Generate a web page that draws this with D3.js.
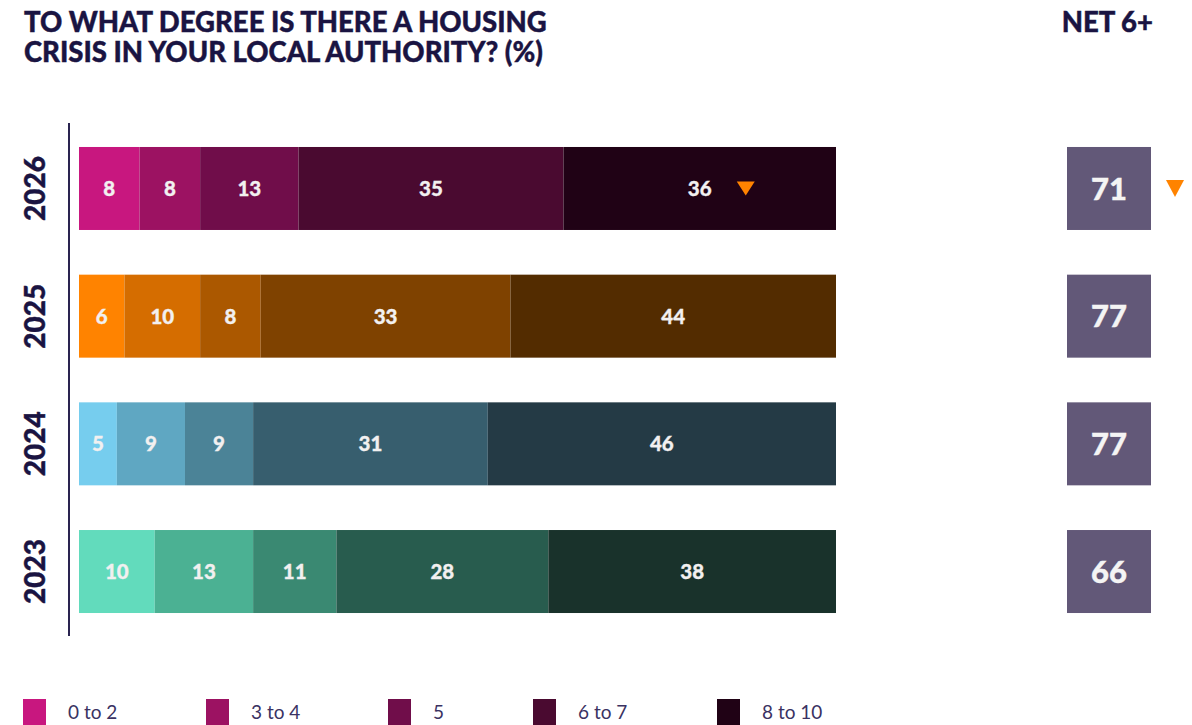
<!DOCTYPE html>
<html>
<head>
<meta charset="utf-8">
<script src="https://cdn.jsdelivr.net/npm/d3@7"></script>
<style>
  body { margin: 0; background: #fff; }
  svg { display: block; }
</style>
</head>
<body>
<div id="container"></div>
<script>
// data
const years = ['2026', '2025', '2024', '2023'];
const bands = ['0 to 2', '3 to 4', '5', '6 to 7', '8 to 10'];
const shares2026 = [8, 8, 13, 35, 36];
const shares2025 = [6, 10, 8, 33, 44];
const shares2024 = [5, 9, 9, 31, 46];
const shares2023 = [10, 13, 11, 28, 38];
const net6 = [71, 77, 77, 66];
const fellSince = ['2026']; // years with a down marker

const palettes = {
  '2026': ['#c8177f', '#9c1262', '#700d4a', '#4a0a30', '#200215'],
  '2025': ['#ff8300', '#d56d00', '#ab5800', '#7f4200', '#532c00'],
  '2024': ['#76cdee', '#5fa7c2', '#4b8397', '#375e6e', '#243a45'],
  '2023': ['#62dbbc', '#4bb193', '#3a8972', '#285c4e', '#19322b']
};

const width = 1192;
const height = 725;
const navy = '#1a1442';

const rows = [shares2026, shares2025, shares2024, shares2023].map((vals, i) => {
  const r = {year: years[i]};
  bands.forEach((b, j) => r[b] = vals[j]);
  return r;
});

const series = d3.stack().keys(bands)(rows);

const svg = d3.select('#container').append('svg')
  .attr('width', width)
  .attr('height', height);

// rounding can push a row past 100, the bar is cut at the end
const x = d3.scaleLinear().domain([0, 100]).range([79, 836]).clamp(true);
const y = d3.scaleBand().domain(years).range([124, 636])
  .paddingInner(0.35).paddingOuter(0.18);

// title
const title = svg.append('text')
  .attr('x', 24)
  .attr('y', 32)
  .attr('fill', navy)
  .attr('stroke', navy)
  .attr('stroke-width', 0.4)
  .style('font-family', 'Lato')
  .style('font-weight', 900)
  .style('font-size', '27.5px');
title.append('tspan').attr('x', 24).attr('dy', 0).text('TO WHAT DEGREE IS THERE A HOUSING');
title.append('tspan').attr('x', 24).attr('dy', 30).text('CRISIS IN YOUR LOCAL AUTHORITY? (%)');

svg.append('text')
  .attr('x', 1153)
  .attr('y', 32)
  .attr('text-anchor', 'end')
  .attr('fill', navy)
  .attr('stroke', navy)
  .attr('stroke-width', 0.4)
  .style('font-family', 'Lato')
  .style('font-weight', 900)
  .style('font-size', '27.5px')
  .text('NET 6+');

// vertical axis line
svg.append('line')
  .attr('x1', 69).attr('x2', 69)
  .attr('y1', 123).attr('y2', 636)
  .attr('stroke', '#2a2450')
  .attr('stroke-width', 2);

// year labels
svg.append('g')
  .selectAll('text')
  .data(years)
  .enter()
  .append('text')
  .attr('transform', d => `translate(45,${y(d) + y.bandwidth() / 2}) rotate(-90)`)
  .attr('text-anchor', 'middle')
  .attr('fill', navy)
  .attr('stroke', navy)
  .attr('stroke-width', 0.4)
  .style('font-family', 'Lato')
  .style('font-weight', 900)
  .style('font-size', '28px')
  .text(d => d);

// stacked bars
const layer = svg.append('g')
  .selectAll('g')
  .data(series)
  .enter()
  .append('g');

layer.selectAll('rect')
  .data((s, i) => s.map(d => ({d, i})))
  .enter()
  .append('rect')
  .attr('x', o => x(o.d[0]))
  .attr('y', o => y(o.d.data.year))
  .attr('width', o => x(o.d[1]) - x(o.d[0]))
  .attr('height', y.bandwidth())
  .attr('fill', o => palettes[o.d.data.year][o.i]);

layer.selectAll('text')
  .data(s => s.map(d => ({d, key: s.key})))
  .enter()
  .append('text')
  .attr('x', o => (x(o.d[0]) + x(o.d[1])) / 2)
  .attr('y', o => y(o.d.data.year) + y.bandwidth() / 2)
  .attr('dy', '0.36em')
  .attr('text-anchor', 'middle')
  .attr('fill', '#f2f0f0')
  .attr('stroke', '#f2f0f0')
  .attr('stroke-width', 0.3)
  .style('font-family', 'Lato')
  .style('font-weight', 900)
  .style('font-size', '20.5px')
  .text(o => o.d.data[o.key]);

const tri = (cx, cy, w, h) => `M${cx - w / 2},${cy - h / 2}L${cx + w / 2},${cy - h / 2}L${cx},${cy + h / 2}Z`;

// down marker inside top band segment
const topBand = series[series.length - 1];
topBand.filter(d => fellSince.includes(d.data.year)).forEach(d => {
  const cx = (x(d[0]) + x(d[1])) / 2;
  svg.append('path')
    .attr('d', tri(cx + 46, y(d.data.year) + y.bandwidth() / 2, 18, 14))
    .attr('fill', '#ff8300');
});

// NET 6+ boxes
const net = svg.append('g')
  .selectAll('g')
  .data(years.map((yr, i) => ({yr, v: net6[i]})))
  .enter()
  .append('g');

net.append('rect')
  .attr('x', 1067)
  .attr('y', d => y(d.yr))
  .attr('width', 84)
  .attr('height', y.bandwidth())
  .attr('fill', '#625878');

net.append('text')
  .attr('x', 1109)
  .attr('y', d => y(d.yr) + y.bandwidth() / 2)
  .attr('dy', '0.36em')
  .attr('text-anchor', 'middle')
  .attr('fill', '#f4f4f4')
  .attr('stroke', '#f4f4f4')
  .attr('stroke-width', 0.4)
  .style('font-family', 'Lato')
  .style('font-weight', 900)
  .style('font-size', '31px')
  .text(d => d.v);

net.filter(d => fellSince.includes(d.yr))
  .append('path')
  .attr('d', d => tri(1175, y(d.yr) + y.bandwidth() / 2, 18, 17))
  .attr('fill', '#ff8300');

// legend
const legendX = [23, 206, 388, 533, 717];
const legend = svg.append('g')
  .selectAll('g')
  .data(bands)
  .enter()
  .append('g')
  .attr('transform', (d, i) => `translate(${legendX[i]},699)`);

legend.append('rect')
  .attr('width', 23)
  .attr('height', 30)
  .attr('fill', (d, i) => palettes['2026'][i]);

legend.append('text')
  .attr('x', 45)
  .attr('y', 20)
  .attr('fill', '#3a3262')
  .style('font-family', 'Lato')
  .style('font-weight', 400)
  .style('font-size', '19px')
  .text(d => d);
</script>
</body>
</html>
